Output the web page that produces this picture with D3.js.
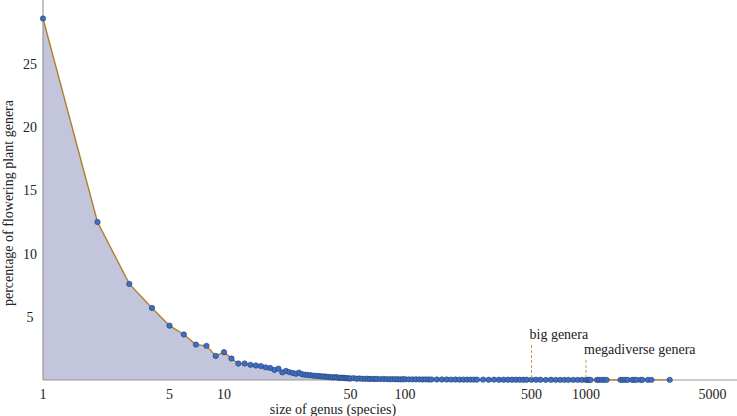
<!DOCTYPE html>
<html><head><meta charset="utf-8">
<script src="https://cdn.jsdelivr.net/npm/d3@7"></script>
<style>body{margin:0;background:#fff}text{font-family:"Liberation Serif",serif;fill:#222}</style>
</head><body><svg id="c" width="737" height="416"></svg>
<script>
// genus size (species) and percentage of flowering plant genera
const sizes = [1,2,3,4,5,6,7,8,9,10,11,12,13,14,15,16,17,18,19,20,21,22,23,24,25,26,27,28,29,30,31,32,33,34,35,36,37,38,39,40,41,42,43,44,45,46,47,48,49,50,52,54,56,58,60,62,64,66,68,70,73,76,79,82,85,88,91,94,97,100,105,110,115,120,125,130,135,140,150,160,170,180,190,200,210,220,230,240,250,270,290,310,330,350,370,390,410,430,450,470,500,530,560,600,640,680,720,760,800,850,900];
const pcts = [28.6,12.5,7.6,5.7,4.3,3.6,2.8,2.7,1.9,2.2,1.7,1.3,1.3,1.2,1.15,1.1,1.0,0.95,0.8,0.9,0.6,0.72,0.62,0.55,0.5,0.58,0.45,0.42,0.4,0.38,0.35,0.33,0.32,0.3,0.28,0.28,0.25,0.24,0.22,0.2,0.22,0.22,0.16,0.18,0.17,0.18,0.14,0.15,0.12,0.12,0.15,0.1,0.12,0.1,0.09,0.1,0.08,0.09,0.08,0.08,0.07,0.08,0.07,0.06,0.07,0.06,0.06,0.05,0.06,0.06,0.05,0.05,0.05,0.05,0.04,0.05,0.04,0.04,0.04,0.04,0.04,0.03,0.04,0.03,0.03,0.03,0.03,0.03,0.03,0.03,0.02,0.03,0.02,0.02,0.02,0.02,0.02,0.02,0.02,0.02,0.02,0.02,0.02,0.01,0.02,0.01,0.01,0.01,0.01,0.01,0.01];
const bigSizes = [950,1000,1020,1040,1060,1150,1180,1220,1260,1300,1550,1600,1650,1700,1800,1850,1900,2000,2050,2200,2300,2900];
const bigPcts = bigSizes.map(() => 0.01);
const xTicks = [1,5,10,50,100,500,1000,5000];
const yTicks = [5,10,15,20,25];
const marks = [{size:500, label:"big genera", top:345}, {size:1000, label:"megadiverse genera", top:360}];

const svg = d3.select("#c");
const x = d3.scaleLog().domain([1, Math.pow(10, (737-43)/181)]).range([43, 737]);
const y = d3.scaleLinear().domain([0, 25]).range([380, 64]);

const pts = sizes.map((s,i) => [s, pcts[i]]).concat(bigSizes.map((s,i) => [s, bigPcts[i]]));

svg.append("path").datum(pts)
  .attr("fill", "#c3c5dc")
  .attr("d", d3.area().x(d => x(d[0])).y0(y(0)).y1(d => y(d[1])));

svg.append("line").attr("x1",43).attr("x2",737).attr("y1",y(0)).attr("y2",y(0)).attr("stroke","#999").attr("stroke-width",1.2);
svg.append("line").attr("x1",43).attr("x2",43).attr("y1",0).attr("y2",y(0)).attr("stroke","#999").attr("stroke-width",1.2);

svg.append("path").datum(pts)
  .attr("fill", "none").attr("stroke", "#b07f2a").attr("stroke-width", 1.4)
  .attr("d", d3.line().x(d => x(d[0])).y(d => y(d[1])));

svg.selectAll("circle.p").data(pts).join("circle")
  .attr("cx", d => x(d[0])).attr("cy", d => y(d[1])).attr("r", 2.7)
  .attr("fill", "#3e6ec2").attr("stroke", "#24406f").attr("stroke-width", 0.6);

svg.selectAll("text.xt").data(xTicks).join("text")
  .attr("x", d => x(d)).attr("y", 399).attr("text-anchor","middle").attr("font-size",14).text(d => d);
svg.selectAll("text.yt").data(yTicks).join("text")
  .attr("x", 30).attr("y", d => y(d)+5).attr("text-anchor","middle").attr("font-size",14).text(d => d);

svg.append("text").attr("x", x(40)).attr("y", 414).attr("text-anchor","middle").attr("font-size",14).text("size of genus (species)");
svg.append("text").attr("transform","translate(13,"+y(14)+") rotate(-90)").attr("text-anchor","middle").attr("font-size",14).text("percentage of flowering plant genera");

marks.forEach(m => {
  svg.append("line").attr("x1", x(m.size)).attr("x2", x(m.size)).attr("y1", m.top).attr("y2", y(0))
    .attr("stroke","#c89a50").attr("stroke-dasharray","3,2").attr("stroke-width",1);
  svg.append("text").attr("x", x(m.size)-2).attr("y", m.top-6).attr("font-size",14).text(m.label);
});
</script></body></html>
